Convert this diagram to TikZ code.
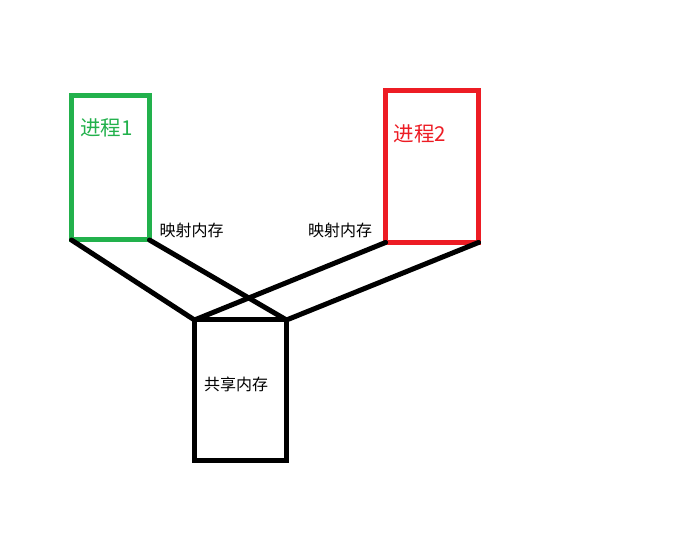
\documentclass[tikz,border=0pt]{standalone}
\usepackage{fontspec}
\setmainfont{Noto Sans CJK SC}
\definecolor{pgreen}{HTML}{22B14C}
\definecolor{pred}{HTML}{ED1C24}
\begin{document}
\begin{tikzpicture}[x=1pt,y=-1pt,
  box/.style={draw,line width=5pt,inner sep=0pt,outer sep=0pt,rectangle},
  link/.style={line width=5pt,line cap=round},
  lbl/.style={inner sep=0pt,font=\fontsize{16}{16}\selectfont},
  title/.style={inner sep=0pt,font=\fontsize{20.5}{20.5}\selectfont}]
\useasboundingbox[fill=white] (0,0) rectangle (675,553);
\node[box,draw=pgreen,minimum width=78pt,minimum height=144.5pt] (p1) at (110.5,167.75) {};
\node[box,draw=pred,minimum width=93pt,minimum height=152pt] (p2) at (432,166.5) {};
\node[box,draw=black,minimum width=92pt,minimum height=140.5pt] (sh) at (240.5,390.25) {};
\node[title,text=pgreen] (t1) at (106.5,128) {进程1};
\node[title,text=pred] (t2) at (420,133.5) {进程2};
\node[lbl] (m1) at (191.5,230.5) {映射内存};
\node[lbl] (m2) at (340,230) {映射内存};
\node[lbl] (s) at (236,384.5) {共享内存};
\draw[link] (p1.south west) -- (sh.north west);
\draw[link] (p1.south east) -- (sh.north east);
\draw[link] (p2.south west) -- (sh.north west);
\draw[link] (p2.south east) -- (sh.north east);
\end{tikzpicture}
\end{document}
